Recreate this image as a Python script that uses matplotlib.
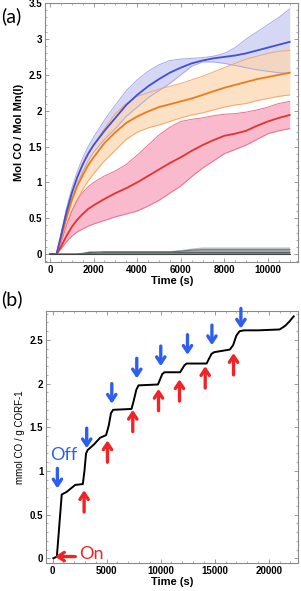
import numpy as np
import matplotlib
matplotlib.use("Agg")
import matplotlib.pyplot as plt
from matplotlib.ticker import MultipleLocator

# ---- panel (a): CO release, mean and spread ----
t_a = [0, 300, 500, 750, 1000, 1250, 1500, 1750, 2000, 2500, 3000, 3500, 4000, 4500, 5000,
       5500, 6000, 6500, 7000, 7500, 8000, 8500, 9000, 9500, 10000, 10500, 11000]

blue_mid = [0, 0, 0.25, 0.58, 0.85, 1.07, 1.25, 1.4, 1.52, 1.72, 1.9, 2.08, 2.22, 2.34, 2.44,
            2.53, 2.6, 2.66, 2.7, 2.73, 2.75, 2.77, 2.8, 2.84, 2.88, 2.92, 2.96]
blue_lo = [0, 0, 0.22, 0.52, 0.78, 0.98, 1.15, 1.3, 1.42, 1.6, 1.75, 1.92, 2.05, 2.18, 2.28,
           2.38, 2.5, 2.62, 2.68, 2.68, 2.66, 2.63, 2.6, 2.57, 2.55, 2.53, 2.52]
blue_hi = [0, 0, 0.28, 0.63, 0.92, 1.15, 1.34, 1.5, 1.63, 1.87, 2.08, 2.28, 2.43, 2.55, 2.64,
           2.7, 2.72, 2.73, 2.74, 2.76, 2.8, 2.88, 3.0, 3.1, 3.2, 3.3, 3.42]

orange_mid = [0, 0, 0.22, 0.5, 0.75, 0.95, 1.1, 1.24, 1.35, 1.55, 1.7, 1.83, 1.92, 1.99, 2.05,
              2.09, 2.13, 2.17, 2.22, 2.27, 2.32, 2.36, 2.4, 2.44, 2.47, 2.5, 2.53]
orange_lo = [0, 0, 0.18, 0.4, 0.6, 0.76, 0.9, 1.02, 1.12, 1.3, 1.45, 1.6, 1.7, 1.76, 1.8,
             1.85, 1.9, 1.94, 1.97, 2.01, 2.05, 2.08, 2.1, 2.14, 2.17, 2.2, 2.22]
orange_hi = [0, 0, 0.26, 0.58, 0.86, 1.08, 1.26, 1.4, 1.52, 1.75, 1.96, 2.1, 2.2, 2.25, 2.3,
             2.34, 2.38, 2.43, 2.48, 2.54, 2.6, 2.66, 2.72, 2.76, 2.8, 2.83, 2.84]

red_mid = [0, 0, 0.1, 0.25, 0.38, 0.48, 0.56, 0.63, 0.68, 0.77, 0.85, 0.92, 1.0, 1.09, 1.18,
           1.27, 1.35, 1.44, 1.52, 1.59, 1.65, 1.68, 1.72, 1.79, 1.85, 1.9, 1.94]
red_lo = [0, 0, 0.07, 0.17, 0.25, 0.31, 0.35, 0.39, 0.42, 0.47, 0.52, 0.56, 0.6, 0.67, 0.75,
          0.85, 0.95, 1.08, 1.2, 1.3, 1.4, 1.46, 1.52, 1.6, 1.68, 1.72, 1.75]
red_hi = [0, 0, 0.14, 0.4, 0.6, 0.75, 0.86, 0.94, 1.0, 1.09, 1.16, 1.25, 1.38, 1.52, 1.66,
          1.77, 1.85, 1.88, 1.9, 1.93, 1.95, 1.96, 1.98, 2.01, 2.05, 2.1, 2.13]

t_gray = [0, 1200, 1800, 2500, 4000, 5500, 6000, 6500, 7000, 8000, 9000, 10000, 11000]
gray1_mid = [0, 0, 0.02, 0.02, 0.02, 0.02, 0.02, 0.02, 0.02, 0.02, 0.02, 0.02, 0.02]
gray1_hi = [0, 0, 0.045, 0.045, 0.045, 0.045, 0.045, 0.045, 0.045, 0.045, 0.045, 0.045, 0.045]
gray2_mid = [0, 0, 0.01, 0.03, 0.03, 0.03, 0.04, 0.055, 0.06, 0.06, 0.06, 0.06, 0.06]
gray2_hi = [0, 0, 0.04, 0.05, 0.05, 0.05, 0.065, 0.085, 0.1, 0.1, 0.1, 0.1, 0.1]

# ---- panel (b): on/off cycling ----
t_b = [80, 400, 850, 1300, 2100, 2800, 2950, 3100, 3250, 3800, 4400, 4950, 5200, 5400, 5600,
       7300, 7500, 7750, 7950, 9750, 9950, 10150, 10350, 11800, 12000, 12200, 12400,
       14250, 14450, 14700, 14950, 16400, 16700, 17000, 17300, 17700, 19000, 21000,
       21500, 21900, 22300]
co_b = [0, 0.02, 0.73, 0.76, 0.84, 0.85, 1.0, 1.2, 1.24, 1.3, 1.38, 1.41, 1.52, 1.66, 1.7,
        1.71, 1.8, 1.93, 1.98, 1.99, 2.05, 2.11, 2.13, 2.13, 2.17, 2.21, 2.23,
        2.23, 2.28, 2.34, 2.36, 2.39, 2.44, 2.55, 2.6, 2.61, 2.61, 2.62,
        2.66, 2.71, 2.77]

off_x = [450, 3160, 5480, 7790, 10010, 12480, 14740, 17420]
off_y = [0.80, 1.26, 1.77, 2.06, 2.20, 2.33, 2.44, 2.63]
on_x = [2920, 5080, 7420, 9800, 11740, 14120, 16740]
on_y = [0.78, 1.35, 1.70, 1.94, 2.05, 2.20, 2.35]

tick_font = "Liberation Sans"
frame_col = "#8a8a8a"

fig = plt.figure(figsize=(3.01, 5.91), dpi=100)
ax1 = fig.add_axes([0.1495, 0.5567, 0.842, 0.438])
ax2 = fig.add_axes([0.153, 0.0469, 0.837, 0.4274])


def style(ax):
    for s in ax.spines.values():
        s.set_color(frame_col)
        s.set_linewidth(0.8)
    ax.tick_params(direction="in", length=3, width=0.6, color=frame_col,
                   labelsize=7, pad=2, top=True, right=True)
    ax.tick_params(which="minor", direction="in", length=1.5, width=0.5,
                   color=frame_col, top=True, right=True)
    for lab in ax.get_xticklabels() + ax.get_yticklabels():
        lab.set_fontfamily(tick_font)
        lab.set_fontweight("bold")


bands = [
    (blue_lo, blue_hi, blue_mid, "#c9c9f2", "#a9a9e8", "#3f4fd8"),
    (orange_lo, orange_hi, orange_mid, "#fdd7b0", "#f5a66a", "#f07a1a"),
    (red_lo, red_hi, red_mid, "#f7a3bd", "#ec6f8f", "#e8312a"),
]
for lo, hi, mid, fc, ec, lc in bands:
    ax1.fill_between(t_a, lo, hi, color=fc, alpha=0.75, lw=0)
    ax1.plot(t_a, lo, color=ec, lw=0.7)
    ax1.plot(t_a, hi, color=ec, lw=0.7)
for lo, hi, mid, fc, ec, lc in bands[::-1]:
    ax1.plot(t_a, mid, color=lc, lw=1.3)

ax1.fill_between(t_gray, 0, gray2_hi, color="#b9c2c2", lw=0)
ax1.fill_between(t_gray, 0, gray1_hi, color="#8e9494", lw=0)
ax1.plot(t_gray, gray1_mid, color="#555a5a", lw=0.8)
ax1.plot(t_gray, gray2_mid, color="#6a7070", lw=0.8)
ax1.plot(t_gray, [0] * len(t_gray), color="#404545", lw=0.8)

ax1.set_xlim(-230, 11400)
ax1.set_ylim(-0.11, 3.5)
ax1.xaxis.set_major_locator(MultipleLocator(2000))
ax1.xaxis.set_minor_locator(MultipleLocator(500))
ax1.yaxis.set_major_locator(MultipleLocator(0.5))
ax1.yaxis.set_minor_locator(MultipleLocator(0.1))
ax1.yaxis.set_major_formatter(plt.FuncFormatter(lambda v, p: f"{v:g}"))
style(ax1)
ax1.set_xlabel("Time (s)", fontsize=8, fontweight="bold", family=tick_font, labelpad=1)
ax1.set_ylabel("Mol CO / Mol Mn(I)", fontsize=8, fontweight="bold", family=tick_font, labelpad=3)

ax2.plot(t_b, co_b, color="black", lw=1.4)
blue_arrow = "#2d5ef0"
red_arrow = "#f02424"
style_arrow = "->,head_length=0.45,head_width=0.3"
for x, y in zip(off_x, off_y):
    ax2.annotate("", xy=(x, y), xytext=(x, y + 0.23),
                 arrowprops=dict(arrowstyle=style_arrow, color=blue_arrow, lw=2.4,
                                 shrinkA=0, shrinkB=0))
for x, y in zip(on_x, on_y):
    ax2.annotate("", xy=(x, y), xytext=(x, y - 0.25),
                 arrowprops=dict(arrowstyle=style_arrow, color=red_arrow, lw=2.4,
                                 shrinkA=0, shrinkB=0))
ax2.annotate("", xy=(230, 0.02), xytext=(2100, 0.02),
             arrowprops=dict(arrowstyle=style_arrow, color=red_arrow, lw=2.4,
                             shrinkA=0, shrinkB=0))
ax2.text(2500, 0.05, "On", color=red_arrow, fontsize=13, family="Lato", va="center")
ax2.text(-200, 1.18, "Off", color=blue_arrow, fontsize=13, family="Lato", va="center")

ax2.set_xlim(-600, 22700)
ax2.set_ylim(-0.057, 2.835)
ax2.xaxis.set_major_locator(MultipleLocator(5000))
ax2.xaxis.set_minor_locator(MultipleLocator(1000))
ax2.yaxis.set_major_locator(MultipleLocator(0.5))
ax2.yaxis.set_minor_locator(MultipleLocator(0.1))
ax2.yaxis.set_major_formatter(plt.FuncFormatter(lambda v, p: f"{v:g}"))
style(ax2)
ax2.set_xlabel("Time (s)", fontsize=8, fontweight="bold", family=tick_font, labelpad=1)
ax2.set_ylabel("mmol CO / g CORF-1", fontsize=7, family=tick_font, labelpad=3)

fig.text(0.003, 0.972, "(a)", fontsize=14, family="Lato", va="center")
fig.text(0.003, 0.493, "(b)", fontsize=14, family="Lato", va="center")

fig.savefig("out.png", dpi=100)
